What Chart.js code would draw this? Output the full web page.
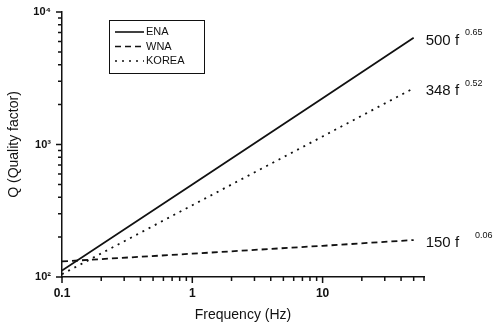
<!DOCTYPE html>
<html>
<head>
<meta charset="utf-8">
<script src="https://cdn.jsdelivr.net/npm/chart.js@4.4.1/dist/chart.umd.min.js"></script>
<style>
  html, body { margin: 0; padding: 0; background: #fff; }
  #wrap { width: 497px; height: 327px; }
</style>
</head>
<body>
<div id="wrap"><canvas id="chart" width="497" height="327"></canvas></div>
<script>
// values (log-log, straight lines)
const freq = [0.1, 1, 10, 50]
const ena = [112, 500, 2230, 6380]
const wna = [131, 150, 172, 190]
const korea = [105, 348, 1150, 2660]

const seriesNames = ['ENA', 'WNA', 'KOREA']
const endLabels = ['500 f', '150 f', '348 f']
const endExps = ['0.65', '0.06', '0.52']

// tick positions (major + minor) and the labelled ones
const xTicks = [0.1, 0.2, 0.3, 0.4, 0.5, 0.6, 0.7, 0.8, 0.9, 1, 2, 3, 4, 5, 6, 7, 8, 9, 10, 20, 30, 40, 50, 60]
const yTicks = [100, 200, 300, 400, 500, 600, 700, 800, 900, 1000, 2000, 3000, 4000, 5000, 6000, 7000, 8000, 9000, 10000]
const yTickText = { 100: '10\u00B2', 1000: '10\u00B3', 10000: '10\u2074' }
const xTickText = { 0.1: '0.1', 1: '1', 10: '10' }

const ink = '#111'
const dashes = [[], [6, 4], [2, 5]]

const toPoints = (ys) => freq.map((f, i) => ({ x: f, y: ys[i] }))

// outward tick marks, longer on the decades
const tickMarks = {
    id: 'tickMarks',
    afterDraw(chart) {
        const ctx = chart.ctx
        const xs = chart.scales.x, ys = chart.scales.y
        const area = chart.chartArea
        ctx.save()
        ctx.setLineDash([])
        ctx.strokeStyle = ink
        ctx.lineWidth = 1.5
        ctx.beginPath()
        xTicks.forEach(v => {
            const px = xs.getPixelForValue(v)
            const len = xTickText[v] ? 6 : 4
            ctx.moveTo(px, area.bottom)
            ctx.lineTo(px, area.bottom + len)
        })
        yTicks.forEach(v => {
            const py = ys.getPixelForValue(v)
            const len = yTickText[v] ? 6 : 4
            ctx.moveTo(area.left, py)
            ctx.lineTo(area.left - len, py)
        })
        ctx.stroke()
        ctx.restore()
    }
}

// little legend box inside the plot, like the original
const boxLegend = {
    id: 'boxLegend',
    afterDraw(chart) {
        const ctx = chart.ctx
        const x0 = 109, y0 = 20, w = 95, h = 53
        ctx.save()
        ctx.strokeStyle = ink
        ctx.lineWidth = 1
        ctx.strokeRect(x0 + 0.5, y0 + 0.5, w, h)
        ctx.font = '11px "Liberation Sans", Arial, sans-serif'
        ctx.fillStyle = ink
        ctx.textBaseline = 'middle'
        seriesNames.forEach((name, i) => {
            const y = y0 + 12 + i * 14.5
            ctx.setLineDash(dashes[i])
            ctx.lineWidth = 1.6
            ctx.beginPath()
            ctx.moveTo(x0 + 6, y)
            ctx.lineTo(x0 + 35, y)
            ctx.stroke()
            ctx.setLineDash([])
            ctx.fillText(name, x0 + 37, y)
        })
        ctx.restore()
    }
}

// "500 f^0.65" style labels at the end of each line
const endText = {
    id: 'endText',
    afterDatasetsDraw(chart) {
        const ctx = chart.ctx
        ctx.save()
        ctx.fillStyle = ink
        ctx.textBaseline = 'middle'
        const supGap = [6, 16, 6]
        chart.data.datasets.forEach((ds, i) => {
            const pts = chart.getDatasetMeta(i).data
            const last = pts[pts.length - 1]
            const x = last.x + 12
            const y = last.y + 3
            ctx.font = '15px "Liberation Sans", Arial, sans-serif'
            ctx.fillText(endLabels[i], x, y)
            const wd = ctx.measureText(endLabels[i]).width
            ctx.font = '9px "Liberation Sans", Arial, sans-serif'
            ctx.fillText(endExps[i], x + wd + supGap[i], y - 8)
        })
        ctx.restore()
    }
}

const data = {
    datasets: [
        { label: 'ENA', data: toPoints(ena) },
        { label: 'WNA', data: toPoints(wna) },
        { label: 'KOREA', data: toPoints(korea) },
    ].map((d, i) => ({
        ...d,
        showLine: true,
        borderColor: ink,
        borderWidth: 1.8,
        borderDash: dashes[i],
        pointRadius: 0,
        tension: 0,
    }))
}

const axisFont = { family: '"Liberation Sans", Arial, sans-serif', size: 12, weight: 'bold' }
const titleFont = { family: '"Liberation Sans", Arial, sans-serif', size: 14 }

const options = {
    responsive: false,
    animation: false,
    layout: { padding: { top: 12, right: 73, left: 0, bottom: 0 } },
    plugins: {
        legend: { display: false },
        tooltip: { enabled: false },
    },
    scales: {
        x: {
            type: 'logarithmic',
            min: 0.1,
            max: 60,
            border: { color: ink, width: 1.5 },
            grid: { display: false },
            afterBuildTicks: (s) => { s.ticks = xTicks.map(v => ({ value: v })) },
            ticks: {
                color: ink,
                font: axisFont,
                padding: 1,
                autoSkip: false,
                maxRotation: 0,
                callback: (v) => xTickText[v] || '',
            },
            title: { display: true, text: 'Frequency (Hz)', color: ink, font: titleFont, padding: { top: 0, bottom: 3 } },
            afterFit: (s) => { s.height = 50 },
        },
        y: {
            type: 'logarithmic',
            min: 100,
            max: 10000,
            border: { color: ink, width: 1.5 },
            grid: { display: false },
            afterBuildTicks: (s) => { s.ticks = yTicks.map(v => ({ value: v })) },
            ticks: {
                color: ink,
                font: { ...axisFont, size: 11 },
                padding: 3,
                autoSkip: false,
                callback: (v) => yTickText[v] || '',
            },
            title: { display: true, text: 'Q (Quality factor)', color: ink, font: titleFont, padding: { top: 6, bottom: 0 } },
            afterFit: (s) => { s.width = 62 },
        },
    },
}

new Chart(document.getElementById('chart'), {
    type: 'scatter',
    data: data,
    options: options,
    plugins: [tickMarks, boxLegend, endText],
})
</script>
</body>
</html>
